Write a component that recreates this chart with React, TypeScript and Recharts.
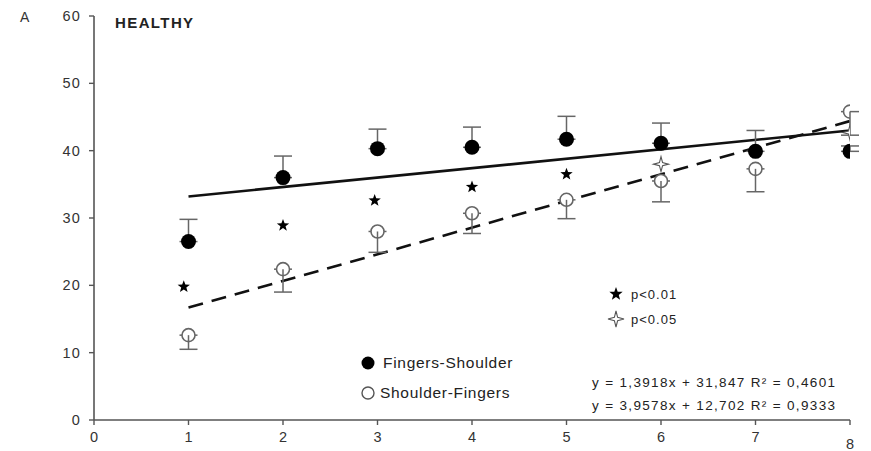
import React from 'react';
import { ComposedChart, Scatter, Line, XAxis, YAxis, ErrorBar } from 'recharts';

// values
const sessions = [1, 2, 3, 4, 5, 6, 7, 8];
const fingersShoulder = [26.5, 36.0, 40.3, 40.5, 41.7, 41.1, 39.9, 39.9];
const fingersShoulderErr = [3.3, 3.2, 2.9, 3.0, 3.4, 3.0, 3.1, 0.8];
const shoulderFingers = [12.6, 22.4, 28.0, 30.7, 32.7, 35.5, 37.3, 45.8];
const shoulderFingersErr = [2.1, 3.4, 3.1, 3.0, 2.8, 3.1, 3.4, 3.5];
const p01 = [
  { x: 0.95, y: 19.8 },
  { x: 2, y: 28.9 },
  { x: 2.97, y: 32.6 },
  { x: 4, y: 34.6 },
  { x: 5, y: 36.5 },
];
const p05 = [
  { x: 6, y: 38.0 },
  { x: 8, y: 42.7 },
];
const trendFS = [
  { x: 1, y: 33.2 },
  { x: 8, y: 43.0 },
];
const trendSF = [
  { x: 1, y: 16.7 },
  { x: 8, y: 44.4 },
];
const xTicks = [0, 1, 2, 3, 4, 5, 6, 7, 8];
const yTicks = [0, 10, 20, 30, 40, 50, 60];

const fsData = sessions.map((x, i) => ({ x, y: fingersShoulder[i], err: [0, fingersShoulderErr[i]] }));
const sfData = sessions.map((x, i) => ({ x, y: shoulderFingers[i], err: [shoulderFingersErr[i], 0] }));

const FONT = '"Liberation Sans", Arial, sans-serif';
const AXIS = '#555';

const starPath = (cx: number, cy: number, ro: number, ri: number, n: number) => {
  const pts: string[] = [];
  for (let i = 0; i < n * 2; i++) {
    const r = i % 2 === 0 ? ro : ri;
    const a = -Math.PI / 2 + (i * Math.PI) / n;
    pts.push(`${(cx + r * Math.cos(a)).toFixed(2)},${(cy + r * Math.sin(a)).toFixed(2)}`);
  }
  return 'M' + pts.join('L') + 'Z';
};

const FilledDot = (p: any) => <circle cx={p.cx} cy={p.cy} r={7.5} fill="#000" />;
// white fill hides the error bar's zero-length cap; the stem inside the circle is redrawn
const OpenDot = (p: any) => (
  <g>
    <circle cx={p.cx} cy={p.cy} r={6.5} fill="#fff" stroke="#666" strokeWidth={1.6} />
    <line x1={p.cx} y1={p.cy} x2={p.cx} y2={p.cy + 6.5} stroke="#666" strokeWidth={1.5} />
  </g>
);
const Star = (p: any) => <path d={starPath(p.cx, p.cy, 6.5, 2.7, 5)} fill="#000" />;
const Sparkle = (p: any) => (
  <path d={starPath(p.cx, p.cy, 7.5, 2.2, 4)} fill="#fff" stroke="#555" strokeWidth={1.1} />
);

const XTick = (p: any) => {
  const v = p.payload.value;
  return (
    <text x={p.x} y={v === 8 ? 449 : 442} textAnchor="middle" fontSize={14.5} fontFamily={FONT} fill="#333">
      {v}
    </text>
  );
};
const YTick = (p: any) => (
  <text x={p.x - 6} y={p.y} dy="0.35em" textAnchor="end" fontSize={14.5} letterSpacing={1.2} fontFamily={FONT} fill="#333">
    {p.payload.value}
  </text>
);

const App: React.FC = () => {
  return (
    <div style={{ position: 'absolute', left: 0, top: 0, width: 871, height: 451, background: '#fff', fontFamily: FONT }}>
      <ComposedChart width={871} height={451} margin={{ top: 16, right: 21, bottom: 1, left: 34 }}>
        <XAxis
          type="number"
          dataKey="x"
          domain={[0, 8]}
          ticks={xTicks}
          height={30}
          axisLine={{ stroke: AXIS, strokeWidth: 1.6 }}
          tickLine={{ stroke: AXIS, strokeWidth: 1.4 }}
          tickSize={5}
          tick={<XTick />}
          allowDataOverflow
        />
        <YAxis
          type="number"
          dataKey="y"
          domain={[0, 60]}
          ticks={yTicks}
          width={60}
          axisLine={{ stroke: AXIS, strokeWidth: 1.6 }}
          tickLine={{ stroke: AXIS, strokeWidth: 1.4 }}
          tickSize={5}
          tick={<YTick />}
          allowDataOverflow
        />
        <Line data={trendFS} dataKey="y" type="linear" stroke="#111" strokeWidth={2.6} dot={false} isAnimationActive={false} />
        <Line data={trendSF} dataKey="y" type="linear" stroke="#111" strokeWidth={2.6} strokeDasharray="15 9" dot={false} isAnimationActive={false} />
        <Scatter data={fsData} dataKey="y" shape={FilledDot} isAnimationActive={false}>
          <ErrorBar dataKey="err" direction="y" width={9} stroke="#666" strokeWidth={1.5} />
        </Scatter>
        <Scatter data={sfData} dataKey="y" shape={OpenDot} isAnimationActive={false}>
          <ErrorBar dataKey="err" direction="y" width={9} stroke="#666" strokeWidth={1.5} />
        </Scatter>
        <Scatter data={p01} dataKey="y" shape={Star} isAnimationActive={false} />
        <Scatter data={p05} dataKey="y" shape={Sparkle} isAnimationActive={false} />
      </ComposedChart>

      <div style={{ position: 'absolute', left: 20, top: 9, fontSize: 14, color: '#333' }}>A</div>
      <div style={{ position: 'absolute', left: 115, top: 14, fontSize: 15, fontWeight: 'bold', letterSpacing: 1.4, color: '#222' }}>
        HEALTHY
      </div>

      <svg style={{ position: 'absolute', left: 0, top: 0 }} width={871} height={451}>
        <circle cx={368} cy={363} r={6.5} fill="#000" />
        <circle cx={368} cy={393} r={6} fill="none" stroke="#555" strokeWidth={1.4} />
        <path d={starPath(616, 294, 7, 2.9, 5)} fill="#000" />
        <path d={starPath(616, 319, 8, 2.3, 4)} fill="#fff" stroke="#555" strokeWidth={1.1} />
        <g fontFamily={FONT} fill="#222">
          <text x={383} y={368} fontSize={15.5} letterSpacing={0.7}>Fingers-Shoulder</text>
          <text x={380} y={398} fontSize={15.5} letterSpacing={0.7}>Shoulder-Fingers</text>
          <text x={631} y={298.5} fontSize={13} letterSpacing={1}>p&lt;0.01</text>
          <text x={631} y={323.5} fontSize={13} letterSpacing={1}>p&lt;0.05</text>
          <text x={592} y={387} fontSize={13.5} textLength={243}>y = 1,3918x + 31,847 R² = 0,4601</text>
          <text x={592} y={410} fontSize={13.5} textLength={243}>y = 3,9578x + 12,702 R² = 0,9333</text>
        </g>
      </svg>
    </div>
  );
};

export default App;
